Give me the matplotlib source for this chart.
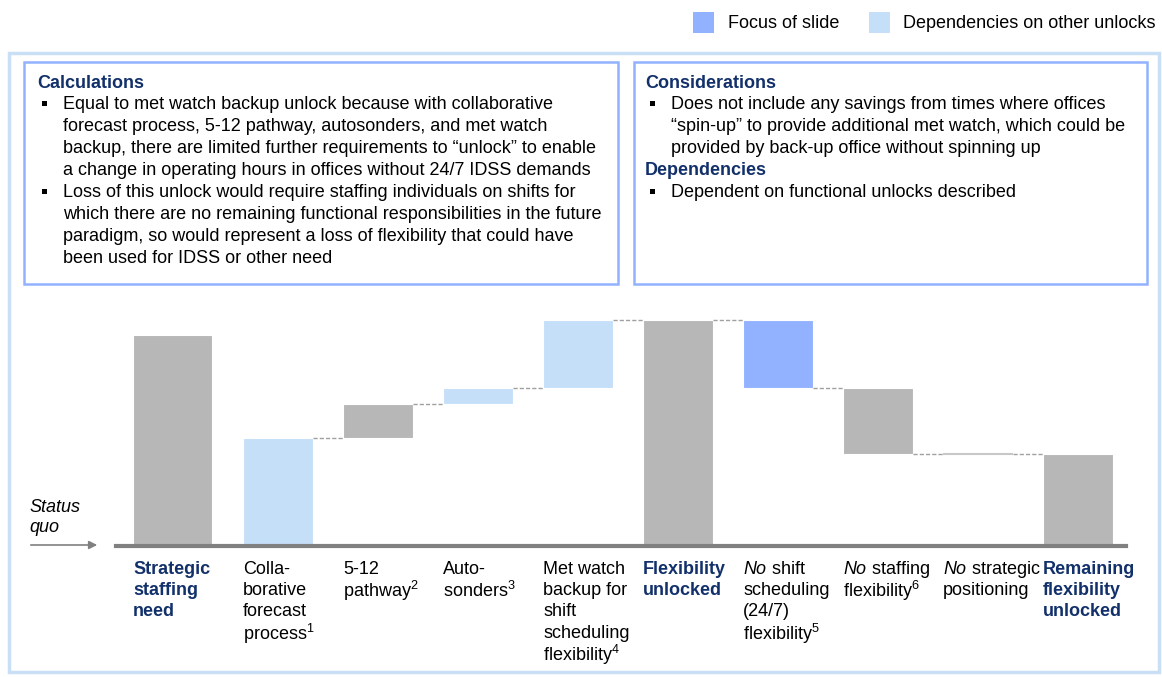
import matplotlib.pyplot as plt
import matplotlib.transforms as mtransforms
from matplotlib.patches import Rectangle
import numpy as np

plt.rcParams['font.family'] = ['Liberation Sans', 'DejaVu Sans']
plt.rcParams['mathtext.fontset'] = 'custom'
plt.rcParams['mathtext.rm'] = 'Liberation Sans'
plt.rcParams['mathtext.it'] = 'Liberation Sans:italic'
plt.rcParams['mathtext.bf'] = 'Liberation Sans:bold'

GRAY = '#B7B7B7'
LIGHT = '#C6DFF9'
FOCUS = '#92B2FF'
NAVY = '#12306A'
FRAME = '#C9DFF5'
BOXEDGE = '#92B2FF'

# waterfall data (flexibility unlocked = 100)
steps = ["Strategic staffing need", "Collaborative forecast process", "5-12 pathway",
         "Auto-sonders", "Met watch backup", "Flexibility unlocked",
         "No shift scheduling", "No staffing flexibility", "No strategic positioning",
         "Remaining flexibility unlocked"]
kinds = ['ref', 'step', 'step', 'step', 'step', 'total', 'step', 'step', 'step', 'total']
values = [93.4, 47.8, 15.0, 7.1, 30.1, None, -30.1, -29.2, 0.0, None]
groups = ['gray', 'dep', 'gray', 'dep', 'dep', 'gray', 'focus', 'gray', 'gray', 'gray']

labels = [
    ["Strategic", "staffing", "need"],
    ["Colla-", "borative", "forecast", "process$^{1}$"],
    ["5-12", "pathway$^{2}$"],
    ["Auto-", "sonders$^{3}$"],
    ["Met watch", "backup for", "shift", "scheduling", "flexibility$^{4}$"],
    ["Flexibility", "unlocked"],
    ["$\\mathit{No}$ shift", "scheduling", "(24/7)", "flexibility$^{5}$"],
    ["$\\mathit{No}$ staffing", "flexibility$^{6}$"],
    ["$\\mathit{No}$ strategic", "positioning"],
    ["Remaining", "flexibility", "unlocked"],
]

calc_lines = [
    ("head", "Calculations"),
    ("bullet", "Equal to met watch backup unlock because with collaborative"),
    ("cont", "forecast process, 5-12 pathway, autosonders, and met watch"),
    ("cont", "backup, there are limited further requirements to \u201cunlock\u201d to enable"),
    ("cont", "a change in operating hours in offices without 24/7 IDSS demands"),
    ("bullet", "Loss of this unlock would require staffing individuals on shifts for"),
    ("cont", "which there are no remaining functional responsibilities in the future"),
    ("cont", "paradigm, so would represent a loss of flexibility that could have"),
    ("cont", "been used for IDSS or other need"),
]
cons_lines = [
    ("head", "Considerations"),
    ("bullet", "Does not include any savings from times where offices"),
    ("cont", "\u201cspin-up\u201d to provide additional met watch, which could be"),
    ("cont", "provided by back-up office without spinning up"),
    ("head", "Dependencies"),
    ("bullet", "Dependent on functional unlocks described"),
]

color_map = {'gray': GRAY, 'dep': LIGHT, 'focus': FOCUS}

# compute floating bars
bottoms, heights, levels = [], [], []
running = 0.0
for k, v in zip(kinds, values):
    if k == 'ref':
        bottoms.append(0.0)
        heights.append(v)
    elif k == 'total':
        bottoms.append(0.0)
        heights.append(running)
    else:
        bottoms.append(running)
        heights.append(v)
        running += v
    levels.append(running)

fig = plt.figure(figsize=(11.62, 6.77), dpi=100)

# overlay in pixel coordinates for frames and text boxes
ov = fig.add_axes([0, 0, 1, 1])
ov.set_xlim(0, 1162)
ov.set_ylim(677, 0)
ov.axis('off')

ov.add_patch(Rectangle((9, 53), 1150, 619, fill=False, edgecolor=FRAME, lw=2.5))
ov.add_patch(Rectangle((24, 62), 594, 222, fill=False, edgecolor=BOXEDGE, lw=1.8))
ov.add_patch(Rectangle((634, 62), 513, 222, fill=False, edgecolor=BOXEDGE, lw=1.8))


def draw_box_text(x0, lines, y0=83, dy=21.9):
    y = y0
    for kind, txt in lines:
        if kind == 'head':
            ov.text(x0, y, txt, fontsize=13, fontweight='bold', color=NAVY, va='center')
        else:
            if kind == 'bullet':
                ov.add_patch(Rectangle((x0 + 5, y - 4), 5, 5, color='black', lw=0))
            ov.text(x0 + 26, y, txt, fontsize=13, color='black', va='center')
        y += dy


draw_box_text(37, calc_lines)
draw_box_text(645, cons_lines)

# legend
ov.add_patch(Rectangle((693, 12), 21, 21, color=FOCUS, lw=0))
ov.text(728, 23, "Focus of slide", fontsize=13, va='center')
ov.add_patch(Rectangle((869, 12), 21, 21, color=LIGHT, lw=0))
ov.text(903, 23, "Dependencies on other unlocks", fontsize=13, va='center')

# waterfall
ax = fig.add_axes([116 / 1162, (677 - 546) / 677, 1010 / 1162, 236 / 677])
x = np.arange(len(steps), dtype=float)
widths = np.full(len(steps), 0.7)
widths[0] = 0.79
x[0] = -0.055
for i in range(len(steps)):
    if heights[i] == 0:
        ax.hlines(bottoms[i], x[i] - widths[i] / 2, x[i] + widths[i] / 2,
                  color='#C8C8C8', lw=1.5)
    else:
        ax.bar(x[i], heights[i], bottom=bottoms[i], width=widths[i],
               color=color_map[groups[i]], edgecolor='white', lw=0.8)

for i in range(1, len(steps) - 1):
    ax.hlines(levels[i], x[i] + widths[i] / 2, x[i + 1] - widths[i + 1] / 2,
              color='#A0A0A0', lw=1, linestyles=(0, (3, 1.5)))

ax.set_xlim(-0.62, 9.48)
ax.set_ylim(0, 104.4)
for s in ['top', 'right', 'left']:
    ax.spines[s].set_visible(False)
ax.spines['bottom'].set_color('#808080')
ax.spines['bottom'].set_linewidth(3)
ax.set_xticks([])
ax.set_yticks([])
ax.patch.set_visible(False)

# category labels below bars, left aligned with bars
lab_tr = mtransforms.blended_transform_factory(ax.transData, ov.transData)
for i, lines in enumerate(labels):
    bold = kinds[i] in ('ref', 'total')
    for j, line in enumerate(lines):
        ax.text(x[i] - widths[i] / 2, 569 + j * 21.5, line, transform=lab_tr,
                fontsize=13, va='center', ha='left',
                fontweight='bold' if bold else 'normal',
                color=NAVY if bold else 'black')

# status quo arrow
ov.text(29, 507, "Status", fontsize=13, style='italic', va='center')
ov.text(29, 528, "quo", fontsize=13, style='italic', va='center')
ov.annotate('', xy=(100, 545), xytext=(28, 545),
            arrowprops=dict(arrowstyle='-|>', color='#808080', lw=1.2, mutation_scale=12))

fig.savefig('out.png', dpi=100)
